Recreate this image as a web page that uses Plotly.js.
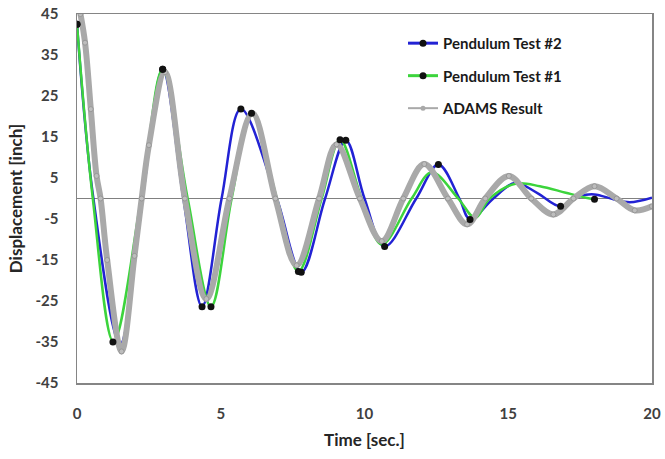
<!DOCTYPE html>
<html>
<head>
<meta charset="utf-8">
<script src="https://cdn.plot.ly/plotly-3.0.1.min.js"></script>
<style>html,body{margin:0;padding:0;background:#fff;}#chart{width:665px;height:459px;}</style>
</head>
<body>
<div id="chart"></div>
<script>
// ---- data ----
var test2Time = [0, 0.57, 1.5, 2.28, 2.98, 3.7, 4.35, 5.03, 5.7, 6.95, 7.8, 8.63, 9.35, 10.0, 10.7, 11.8, 12.57, 13.3, 13.67, 14.48, 15.23, 16.0, 16.82, 17.5, 18.0, 18.66, 19.23, 20];
var test2Disp = [42.5, 0, -35.5, 0, 31.5, 0, -26.4, 0, 21.8, 0, -18, 0, 14.2, 0, -11.7, 0, 8.3, 0, -5.1, 0, 3.8, 1.4, -1.9, 0.6, 1.0, -0.2, -0.9, 0.2];
var test2MarkTime = [0, 2.98, 4.35, 5.7, 7.8, 9.35, 10.7, 12.57, 13.67, 16.82];
var test2MarkDisp = [42.5, 31.5, -26.4, 21.8, -18, 14.2, -11.7, 8.3, -5.1, -1.9];

var test1Time = [0, 0.55, 1.27, 2.23, 2.98, 3.85, 4.66, 5.38, 6.07, 6.95, 7.7, 8.51, 9.15, 9.9, 10.6, 11.64, 12.34, 13.26, 13.85, 14.35, 15.25, 16.1, 17.0, 17.7, 18.0];
var test1Disp = [42.5, 0, -35, 0, 31.5, 0, -26.4, 0, 20.8, 0, -17.8, 0, 14.3, 0, -11.2, 0, 6.4, 0, -4.7, 0, 3.6, 3.0, 1.4, 0.2, -0.2];
var test1MarkTime = [0, 1.25, 2.98, 4.66, 6.07, 7.7, 9.15, 18.0];
var test1MarkDisp = [42.5, -35, 31.5, -26.4, 20.8, -17.8, 14.3, -0.2];

var adamsTime = [0.12, 0.28, 0.48, 0.68, 0.82, 1.05, 1.55, 2.0, 2.25, 2.5, 3.06, 3.75, 4.5, 5.3, 6.1, 6.9, 7.64, 8.42, 9.03, 9.84, 10.6, 11.35, 12.08, 12.9, 13.57, 14.2, 15.02, 15.8, 16.57, 17.27, 18.0, 18.77, 19.4, 20];
var adamsDisp = [45, 38, 21.8, 5.5, 0, -15, -37.3, -14, 0, 13, 30.8, 0, -24.5, 0, 20.8, 0, -16.3, 0, 13.2, 0, -10.4, 0, 8.4, 0, -6.3, 0, 5.5, 0, -3.9, 0, 3.0, 0, -2.9, -1.9];

var seriesNames = ['Pendulum Test #2', 'Pendulum Test #1', 'ADAMS Result'];
var xTickVals = [0, 5, 10, 15, 20];
var xTickText = ['0', '5', '10', '15', '20'];
var yTickVals = [45, 35, 25, 15, 5, -5, -15, -25, -35, -45];
var yTickText = ['45', '35', '25', '15', '5', '-5', '-15', '-25', '-35', '-45'];

var BLUE = '#2222d4', GREEN = '#3cd43c', GRAY = '#a9a9a9';

var traces = [
  {x: test2Time, y: test2Disp, type: 'scatter', mode: 'lines', line: {color: BLUE, width: 2.5, shape: 'spline', smoothing: 1}, legendgroup: 'b', showlegend: false, hoverinfo: 'skip'},
  {x: test1Time, y: test1Disp, type: 'scatter', mode: 'lines', line: {color: GREEN, width: 2.5, shape: 'spline', smoothing: 1}, legendgroup: 'g', showlegend: false, hoverinfo: 'skip'},
  {x: adamsTime, y: adamsDisp, type: 'scatter', mode: 'lines+markers', line: {color: GRAY, width: 6, shape: 'spline', smoothing: 1},
   marker: {size: 5, color: '#bdbdbd', line: {color: '#979797', width: 1}}, legendgroup: 'a', showlegend: false, hoverinfo: 'skip'},
  {x: test2MarkTime, y: test2MarkDisp, type: 'scatter', mode: 'markers', marker: {size: 7, color: '#111'}, legendgroup: 'b', showlegend: false, hoverinfo: 'skip'},
  {x: test1MarkTime, y: test1MarkDisp, type: 'scatter', mode: 'markers', marker: {size: 7, color: '#111'}, legendgroup: 'g', showlegend: false, hoverinfo: 'skip'},
  {x: [null], y: [null], type: 'scatter', mode: 'lines+markers', name: seriesNames[0], line: {color: BLUE, width: 3}, marker: {size: 7, color: '#111'}, legendgroup: 'b', legendrank: 1},
  {x: [null], y: [null], type: 'scatter', mode: 'lines+markers', name: seriesNames[1], line: {color: GREEN, width: 3}, marker: {size: 7, color: '#111'}, legendgroup: 'g', legendrank: 2},
  {x: [null], y: [null], type: 'scatter', mode: 'lines+markers', name: seriesNames[2], line: {color: GRAY, width: 2}, marker: {size: 5, color: GRAY}, legendgroup: 'a', legendrank: 3}
];

var layout = {
  width: 665, height: 459,
  margin: {l: 77, r: 13, t: 14, b: 76},
  paper_bgcolor: '#fff', plot_bgcolor: '#fff',
  font: {family: 'Lato, "Open Sans", sans-serif', color: '#404040'},
  showlegend: true,
  legend: {x: 0.567, y: 0.965, xanchor: 'left', yanchor: 'top', bgcolor: 'rgba(0,0,0,0)',
    traceorder: 'grouped', tracegroupgap: 10,
    font: {family: 'Lato, sans-serif', size: 15, color: '#1a1a1a', weight: 'bold'}},
  xaxis: {range: [0, 20], tickvals: xTickVals, ticktext: xTickText, showgrid: false, zeroline: false,
    showline: true, mirror: true, linecolor: '#858585', linewidth: 1.5, ticks: '',
    ticklabelstandoff: 16,
    tickfont: {family: 'Lato, sans-serif', size: 15, color: '#404040', weight: 'bold'},
    title: {text: 'Time [sec.]', standoff: 13, font: {family: 'Lato, sans-serif', size: 17, color: '#262626', weight: 'bold'}}},
  yaxis: {range: [-45, 45], tickvals: yTickVals, ticktext: yTickText, showgrid: false,
    zeroline: true, zerolinecolor: '#808080', zerolinewidth: 1.5,
    showline: true, mirror: true, linecolor: '#858585', linewidth: 1.5, ticks: '',
    ticklabelstandoff: 14,
    tickfont: {family: 'Lato, sans-serif', size: 15, color: '#404040', weight: 'bold'},
    title: {text: 'Displacement [inch]', standoff: 8, font: {family: 'Lato, sans-serif', size: 17, color: '#262626', weight: 'bold'}}}
};

Plotly.newPlot('chart', traces, layout, {staticPlot: true, displayModeBar: false});
</script>
</body>
</html>
